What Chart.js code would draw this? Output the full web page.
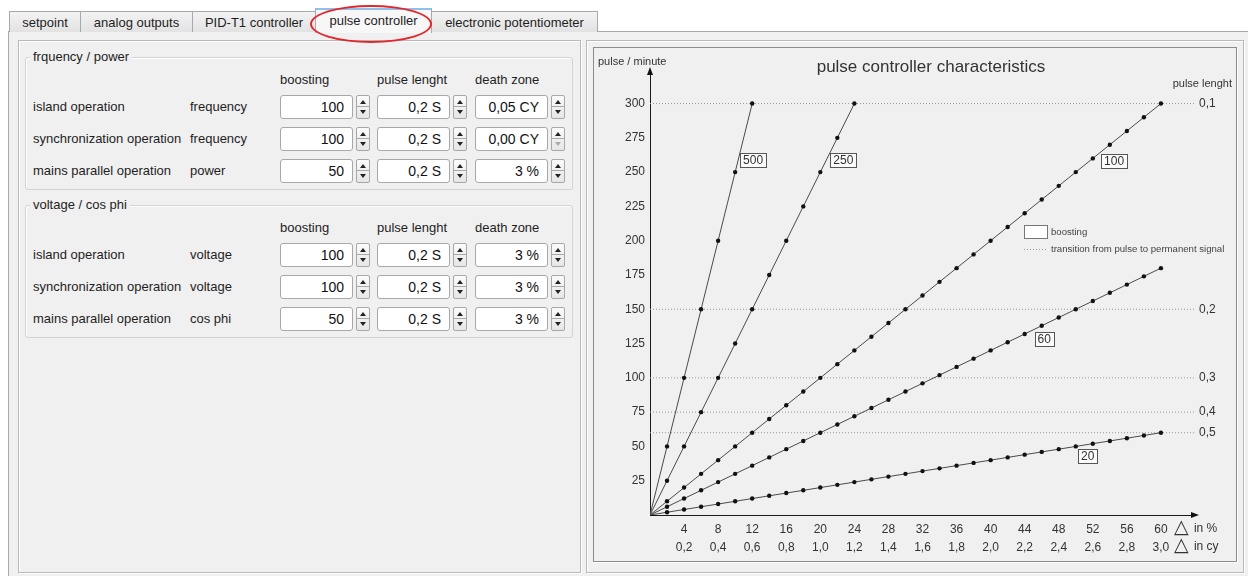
<!DOCTYPE html>
<html>
<head>
<meta charset="utf-8">
<script src="https://cdn.jsdelivr.net/npm/chart.js@4.4.0/dist/chart.umd.min.js"></script>
<style>
body { margin: 0; width: 1248px; height: 576px; background: #fff; position: relative; overflow: hidden;
       font-family: "Liberation Sans", Arial, sans-serif; font-size: 13px; color: #1e1e1e; }
.tab { position: absolute; top: 11px; height: 21px; box-sizing: border-box; border: 1px solid #a9a9a9; border-bottom: none;
       background: linear-gradient(#f3f3f3, #e2e2e2); text-align: center; line-height: 21px; }
.tab.active { top: 8px; height: 25px; background: #f7f7f7; border-top: 2px solid #8fc0ea; z-index: 3; line-height: 21px; }
.body { position: absolute; left: 8px; top: 31px; right: -2px; bottom: -2px; border: 1px solid #a9a9a9; background: #f0f0f0; }
.panel { position: absolute; border: 1px solid #b9b9b9; box-shadow: inset 1px 1px 0 #fff, 1px 1px 0 #fff; box-sizing: border-box; }
.group { position: absolute; border: 1px solid #d3d3d3; border-radius: 3px; box-shadow: inset 1px 1px 0 #fff; box-sizing: border-box; }
.legend { position: absolute; background: #f0f0f0; padding: 0 3px; line-height: 16px; }
.lbl { position: absolute; line-height: 16px; white-space: nowrap; }
.inp { position: absolute; width: 73px; height: 24px; box-sizing: border-box; border: 1px solid #a8a8a8; border-radius: 3px;
       background: #fff; text-align: right; padding-right: 8px; line-height: 22px; font-size: 14px; color: #111; }
.spn { position: absolute; width: 14px; height: 24px; box-sizing: border-box; border: 1px solid #a8a8a8; border-radius: 2px;
       background: linear-gradient(#fbfbfb, #e6e6e6); }
.spn::before, .spn::after { content: ""; position: absolute; left: 3px; border-left: 3px solid transparent; border-right: 3px solid transparent; }
.spn::before { top: 4px; border-bottom: 4px solid #222; }
.spn::after { bottom: 4px; border-top: 4px solid #222; }
.spn.off::after { border-top-color: #aaa; }
.spn i { position: absolute; left: 0; right: 0; top: 10px; border-top: 1px solid #a8a8a8; }
#ring { position: absolute; left: 310px; top: 5px; width: 122px; height: 38px; box-sizing: border-box;
        border: 2px solid #e3262b; border-radius: 50%; z-index: 5; }
#chartBox { position: absolute; left: 594px; top: 48px; width: 642px; height: 512px; }
</style>
</head>
<body>
<div class="body"></div>
<div class="tab" style="left:9px;width:72px">setpoint</div>
<div class="tab" style="left:80px;width:113px">analog outputs</div>
<div class="tab" style="left:192px;width:124px">PID-T1 controller</div>
<div class="tab active" style="left:315px;width:117px">pulse controller</div>
<div class="tab" style="left:431px;width:167px">electronic potentiometer</div>
<div id="ring"></div>

<div class="panel" style="left:18px;top:40px;width:563px;height:533px"></div>
<div class="panel" style="left:586px;top:40px;width:658px;height:533px"></div>
<div style="position:absolute;left:593px;top:47px;width:644px;height:515px;box-sizing:border-box;border:1px solid #8c8c8c;box-shadow:1px 1px 0 #fff"></div>

<div id="form"></div>

<div id="chartBox"><canvas id="pulseChart" width="642" height="512"></canvas></div>

<script>
// boosting curves: x = deviation in %, y = pulses per minute
const boostingNames = ['500', '250', '100', '60', '20'];
const x500 = [0, 2, 4, 6, 8, 10, 12];
const y500 = [0, 50, 100, 150, 200, 250, 300];
const x250 = [0, 2, 4, 6, 8, 10, 12, 14, 16, 18, 20, 22, 24];
const y250 = [0, 25, 50, 75, 100, 125, 150, 175, 200, 225, 250, 275, 300];
const xFull = [0, 2, 4, 6, 8, 10, 12, 14, 16, 18, 20, 22, 24, 26, 28, 30, 32, 34, 36, 38, 40, 42, 44, 46, 48, 50, 52, 54, 56, 58, 60];
const y100 = [0, 10, 20, 30, 40, 50, 60, 70, 80, 90, 100, 110, 120, 130, 140, 150, 160, 170, 180, 190, 200, 210, 220, 230, 240, 250, 260, 270, 280, 290, 300];
const y60 = [0, 6, 12, 18, 24, 30, 36, 42, 48, 54, 60, 66, 72, 78, 84, 90, 96, 102, 108, 114, 120, 126, 132, 138, 144, 150, 156, 162, 168, 174, 180];
const y20 = [0, 2, 4, 6, 8, 10, 12, 14, 16, 18, 20, 22, 24, 26, 28, 30, 32, 34, 36, 38, 40, 42, 44, 46, 48, 50, 52, 54, 56, 58, 60];

// transition from pulse to permanent signal (pulse lenght)
const transitionY = [300, 150, 100, 75, 60];
const transitionLabels = ['0,1', '0,2', '0,3', '0,4', '0,5'];

// tick labels
const yTicks = [25, 50, 75, 100, 125, 150, 175, 200, 225, 250, 275, 300];
const xTicksPct = [4, 8, 12, 16, 20, 24, 28, 32, 36, 40, 44, 48, 52, 56, 60];
const xTicksCy = ['0,2', '0,4', '0,6', '0,8', '1,0', '1,2', '1,4', '1,6', '1,8', '2,0', '2,2', '2,4', '2,6', '2,8', '3,0'];

// form values
const groups = [
    { title: 'frquency / power', top: 40, rows: [
        ['island operation', 'frequency', '100', '0,2 S', '0,05 CY'],
        ['synchronization operation', 'frequency', '100', '0,2 S', '0,00 CY'],
        ['mains parallel operation', 'power', '50', '0,2 S', '3 %']
    ]},
    { title: 'voltage / cos phi', top: 188, rows: [
        ['island operation', 'voltage', '100', '0,2 S', '3 %'],
        ['synchronization operation', 'voltage', '100', '0,2 S', '3 %'],
        ['mains parallel operation', 'cos phi', '50', '0,2 S', '3 %']
    ]}
];

// build the form
const form = document.getElementById('form');
let html = '';
const cols = [280, 377, 475];
groups.forEach(g => {
    const t = g.top;
    html += '<div class="group" style="left:25px;top:' + (t + 17) + 'px;width:548px;height:133px"></div>';
    html += '<div class="legend" style="left:30px;top:' + (t + 9) + 'px">' + g.title + '</div>';
    ['boosting', 'pulse lenght', 'death zone'].forEach((h, i) => {
        html += '<div class="lbl" style="left:' + cols[i] + 'px;top:' + (t + 32) + 'px">' + h + '</div>';
    });
    g.rows.forEach((r, ri) => {
        const cy = t + 67 + ri * 32;
        html += '<div class="lbl" style="left:33px;top:' + (cy - 8) + 'px">' + r[0] + '</div>';
        html += '<div class="lbl" style="left:190px;top:' + (cy - 8) + 'px">' + r[1] + '</div>';
        for (let i = 0; i < 3; i++) {
            const off = (r[2 + i] === '0,00 CY') ? ' off' : '';
            html += '<div class="inp" style="left:' + cols[i] + 'px;top:' + (cy - 12) + 'px">' + r[2 + i] + '</div>';
            html += '<div class="spn' + off + '" style="left:' + (cols[i] + 76) + 'px;top:' + (cy - 12) + 'px"><i></i></div>';
        }
    });
});
form.innerHTML = html;

const FONT = '"Liberation Sans", Arial, sans-serif';

const toPoints = (xs, ys) => xs.map((x, i) => ({ x: x, y: ys[i] }));
const curves = [
    toPoints(x500, y500),
    toPoints(x250, y250),
    toPoints(xFull, y100),
    toPoints(xFull, y60),
    toPoints(xFull, y20)
];

const datasets = curves.map((pts, i) => ({
    label: boostingNames[i],
    data: pts,
    showLine: true,
    borderColor: '#4a4a4a',
    borderWidth: 1,
    pointRadius: c => (c.dataIndex === 0 ? 0 : 2.2),
    pointBackgroundColor: '#111',
    pointBorderWidth: 0,
    order: 0
}));

transitionY.forEach(v => {
    datasets.push({
        label: 'transition',
        data: [{ x: 0, y: v }, { x: 64, y: v }],
        showLine: true,
        borderColor: '#9a9a9a',
        borderWidth: 1,
        borderDash: [1, 2],
        pointRadius: 0,
        order: 1
    });
});

// where the boxed boosting labels sit (data units)
const boxAt = [[12.1, 259], [22.7, 259], [54.5, 258], [46.3, 128], [51.4, 43]];

const decorations = {
    id: 'decorations',
    afterDraw(chart) {
        const { ctx, chartArea: a, scales: { x, y } } = chart;
        ctx.save();
        ctx.fillStyle = '#111';
        // axis arrows
        ctx.beginPath();
        ctx.moveTo(a.left, a.top - 5);
        ctx.lineTo(a.left - 3, a.top + 3);
        ctx.lineTo(a.left + 3, a.top + 3);
        ctx.fill();
        ctx.beginPath();
        ctx.moveTo(a.right + 4, a.bottom);
        ctx.lineTo(a.right - 4, a.bottom - 3);
        ctx.lineTo(a.right - 4, a.bottom + 3);
        ctx.fill();

        ctx.fillStyle = '#333';
        ctx.textBaseline = 'middle';
        // title
        ctx.font = '17px ' + FONT;
        ctx.textAlign = 'center';
        ctx.fillText('pulse controller characteristics', 337, 19);
        // axis titles
        ctx.font = '11px ' + FONT;
        ctx.textAlign = 'left';
        ctx.fillText('pulse / minute', 4, 14);
        ctx.textAlign = 'right';
        ctx.fillText('pulse lenght', 638, 36);

        // pulse lenght values at the dotted lines
        ctx.font = '12px ' + FONT;
        ctx.textAlign = 'left';
        transitionY.forEach((v, i) => {
            ctx.fillText(transitionLabels[i], a.right + 4, y.getPixelForValue(v));
        });

        // delta units after the last tick
        const px = x.getPixelForValue(60) + 13;
        const rows = [a.bottom + 13, a.bottom + 31];
        ['in %', 'in cy'].forEach((u, i) => {
            ctx.font = '19px "DejaVu Sans", sans-serif';
            ctx.fillText('\u25B3', px, rows[i]);
            ctx.font = '12px ' + FONT;
            ctx.fillText(u, px + 20, rows[i] + 1);
        });

        // boxed boosting labels
        ctx.font = '12px ' + FONT;
        ctx.textAlign = 'center';
        boostingNames.forEach((name, i) => {
            const cx = x.getPixelForValue(boxAt[i][0]);
            const cy = y.getPixelForValue(boxAt[i][1]);
            const w = ctx.measureText(name).width + 6;
            ctx.fillStyle = '#fbfbfb';
            ctx.fillRect(Math.round(cx - w / 2) + 0.5, Math.round(cy - 7) + 0.5, Math.round(w), 14);
            ctx.strokeStyle = '#555';
            ctx.lineWidth = 1;
            ctx.strokeRect(Math.round(cx - w / 2) + 0.5, Math.round(cy - 7) + 0.5, Math.round(w), 14);
            ctx.fillStyle = '#333';
            ctx.fillText(name, cx, cy + 0.5);
        });

        // legend
        ctx.fillStyle = '#fff';
        ctx.fillRect(430.5, 177.5, 23, 13);
        ctx.strokeStyle = '#777';
        ctx.strokeRect(430.5, 177.5, 23, 13);
        ctx.strokeStyle = '#9a9a9a';
        ctx.setLineDash([1, 2]);
        ctx.beginPath();
        ctx.moveTo(430, 201.5);
        ctx.lineTo(453, 201.5);
        ctx.stroke();
        ctx.setLineDash([]);
        ctx.fillStyle = '#444';
        ctx.font = '9.6px ' + FONT;
        ctx.textAlign = 'left';
        ctx.fillText('boosting', 457, 184);
        ctx.fillText('transition from pulse to permanent signal', 457, 201);
        ctx.restore();
    }
};

new Chart(document.getElementById('pulseChart'), {
    type: 'scatter',
    data: { datasets: datasets },
    options: {
        responsive: false,
        animation: false,
        layout: { padding: { top: 24, right: 41, left: 0, bottom: 0 } },
        plugins: { legend: { display: false }, tooltip: { enabled: false } },
        scales: {
            x: {
                type: 'linear',
                min: 0,
                max: 64,
                afterBuildTicks: s => { s.ticks = xTicksPct.map(v => ({ value: v })); },
                afterFit: s => { s.height = 45; },
                grid: { display: false, drawTicks: false, tickLength: 0 },
                border: { display: true, color: '#1a1a1a', width: 1 },
                ticks: {
                    autoSkip: false,
                    maxRotation: 0,
                    padding: 6,
                    color: '#333',
                    font: { family: FONT, size: 12, lineHeight: 1.5 },
                    callback: v => [String(v), xTicksCy[xTicksPct.indexOf(v)]]
                }
            },
            y: {
                type: 'linear',
                min: 0,
                max: 323,
                afterBuildTicks: s => { s.ticks = yTicks.map(v => ({ value: v })); },
                afterFit: s => { s.width = 56; },
                grid: { display: false, drawTicks: false, tickLength: 0 },
                border: { display: true, color: '#1a1a1a', width: 1 },
                ticks: {
                    padding: 5,
                    color: '#333',
                    font: { family: FONT, size: 12 }
                }
            }
        }
    },
    plugins: [decorations]
});
</script>
</body>
</html>
